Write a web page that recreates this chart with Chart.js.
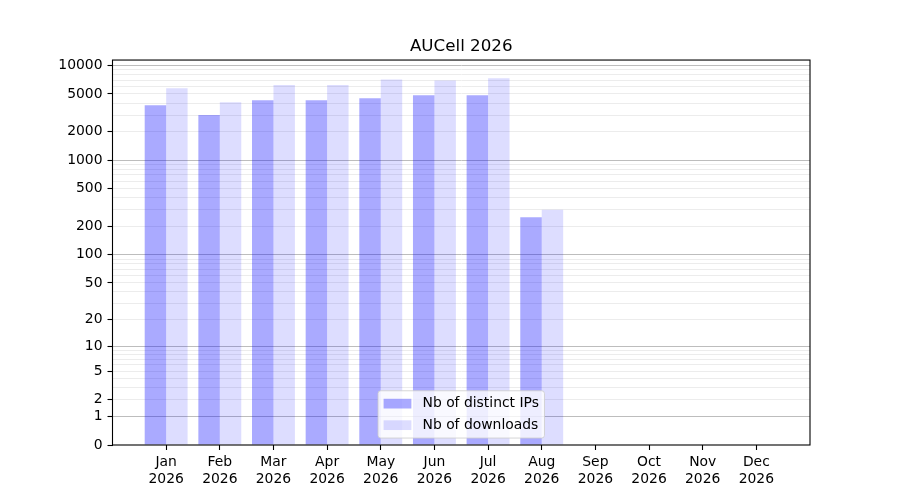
<!DOCTYPE html>
<html>
<head>
<meta charset="utf-8">
<title>AUCell 2026</title>
<script src="https://cdn.jsdelivr.net/npm/chart.js@4.4.1/dist/chart.umd.min.js"></script>
<style>
  body { margin: 0; background: #fff; }
</style>
</head>
<body>
<canvas id="aucellChart" width="900" height="500"></canvas>
<script>
var months = ['Jan', 'Feb', 'Mar', 'Apr', 'May', 'Jun', 'Jul', 'Aug', 'Sep', 'Oct', 'Nov', 'Dec'];
var year = '2026';
var distinctIps = [3800, 3000, 4300, 4300, 4500, 4850, 4850, 250];
var downloads = [5750, 4100, 6200, 6200, 7100, 6950, 7300, 300];
var yTickLabels = [0, 1, 2, 5, 10, 20, 50, 100, 200, 500, 1000, 2000, 5000, 10000];
var yMajorLines = [1, 10, 100, 1000, 10000];
var yTopValue = 11390;

// every grid line: 0, then 1..9, 10..90, 100..900, 1000..9000, 10000
var yGridValues = [0];
[1, 10, 100, 1000].forEach(function (d) {
    for (var k = 1; k < 10; k++) yGridValues.push(k * d);
});
yGridValues.push(10000);

// y axis spaced like log10(v + 1), so zero sits on the floor
class Log1pScale extends Chart.Scale {
    determineDataLimits() {
        this.min = this.options.min;
        this.max = this.options.max;
    }
    buildTicks() {
        return yGridValues.map(function (v) { return { value: v }; });
    }
    configure() {
        super.configure();
        this._lo = Math.log10(this.min + 1);
        this._hi = Math.log10(this.max + 1);
    }
    getLabelForValue(v) {
        return String(v);
    }
    getPixelForValue(v) {
        return this.getPixelForDecimal((Math.log10(v + 1) - this._lo) / (this._hi - this._lo));
    }
    getValueForPixel(p) {
        return Math.pow(10, this._lo + this.getDecimalForPixel(p) * (this._hi - this._lo)) - 1;
    }
}
Log1pScale.id = 'log1p';
Log1pScale.defaults = {};
Chart.register(Log1pScale);

var FS = 13.9;
Chart.defaults.font.family = '"DejaVu Sans"';
Chart.defaults.font.size = FS;
Chart.defaults.color = '#000';

// top and right spines like the original box
var frame = {
    id: 'frame',
    afterDatasetsDraw: function (chart) {
        var a = chart.chartArea, ctx = chart.ctx;
        ctx.save();
        ctx.strokeStyle = '#000';
        ctx.lineWidth = 1.1;
        ctx.strokeRect(a.left, a.top, a.right - a.left, a.bottom - a.top);
        ctx.restore();
    }
};

// legend box at lower centre of the plot
var legendBox = {
    id: 'legendBox',
    afterDraw: function (chart) {
        var a = chart.chartArea, ctx = chart.ctx;
        var sets = chart.data.datasets;
        ctx.save();
        ctx.font = FS + 'px "DejaVu Sans"';
        var textW = 0;
        sets.forEach(function (d) { textW = Math.max(textW, ctx.measureText(d.label).width); });
        var pad = 0.4 * FS, handleW = 2 * FS, handleH = 0.7 * FS, gap = 0.8 * FS;
        var rowH = 14.6, space = 0.5 * FS;
        var w = pad * 2 + handleW + gap + textW;
        var h = pad * 2 + sets.length * rowH + (sets.length - 1) * space;
        var bx = (a.left + a.right) / 2 - w / 2;
        var by = a.bottom - 0.5 * FS - h;
        ctx.beginPath();
        ctx.roundRect(bx, by, w, h, 2.8);
        ctx.fillStyle = 'rgba(255,255,255,0.8)';
        ctx.fill();
        ctx.strokeStyle = 'rgba(204,204,204,0.8)';
        ctx.lineWidth = 1;
        ctx.stroke();
        sets.forEach(function (d, i) {
            var cy = by + pad + rowH / 2 + i * (rowH + space);
            ctx.fillStyle = d.backgroundColor;
            ctx.fillRect(bx + pad, cy - handleH / 2, handleW, handleH);
            ctx.fillStyle = '#000';
            ctx.textBaseline = 'middle';
            ctx.textAlign = 'left';
            ctx.fillText(d.label, bx + pad + handleW + gap, cy);
        });
        ctx.restore();
    }
};

var ctxA = document.getElementById('aucellChart').getContext('2d');
var aucellChart = new Chart(ctxA, {
    type: 'bar',
    data: {
        datasets: [{
            label: 'Nb of distinct IPs',
            data: distinctIps.map(function (v, i) { return { x: i, y: v }; }),
            backgroundColor: 'rgba(0,0,255,0.333)',
            borderWidth: 0
        }, {
            label: 'Nb of downloads',
            data: downloads.map(function (v, i) { return { x: i, y: v }; }),
            backgroundColor: 'rgba(0,0,255,0.133)',
            borderWidth: 0
        }]
    },
    options: {
        responsive: false,
        animation: false,
        categoryPercentage: 0.8,
        barPercentage: 1.0,
        layout: { padding: { left: 0, right: 90, top: 0, bottom: 0 } },
        plugins: {
            legend: { display: false },
            tooltip: { enabled: false },
            title: {
                display: true,
                fullSize: false,
                text: 'AUCell 2026',
                color: '#000',
                font: { size: 16.7, weight: 'normal', lineHeight: 1.2 },
                padding: { top: 37, bottom: 3 }
            }
        },
        scales: {
            x: {
                type: 'linear',
                min: -1,
                max: 12,
                offset: false,
                afterBuildTicks: function (scale) {
                    scale.ticks = months.map(function (m, i) { return { value: i }; });
                },
                afterFit: function (scale) { scale.height = 55; },
                ticks: {
                    autoSkip: false,
                    maxRotation: 0,
                    padding: 4,
                    font: { lineHeight: 1.2 },
                    callback: function (v) { return [months[v], year]; }
                },
                grid: {
                    offset: false,
                    drawOnChartArea: false,
                    drawTicks: true,
                    tickLength: 5,
                    tickColor: '#000',
                    tickWidth: 1.1
                },
                border: { display: false }
            },
            y: {
                type: 'log1p',
                min: 0,
                max: yTopValue,
                afterFit: function (scale) { scale.width = 112.5; },
                ticks: {
                    autoSkip: false,
                    padding: 5,
                    callback: function (v) {
                        return yTickLabels.indexOf(v) >= 0 ? String(v) : '';
                    }
                },
                grid: {
                    drawTicks: true,
                    tickLength: 5,
                    lineWidth: 1,
                    color: function (c) {
                        var v = c.tick ? c.tick.value : null;
                        if (v === 0) return 'rgba(0,0,0,0)';
                        return yMajorLines.indexOf(v) >= 0 ? '#bdbdbd' : '#ececec';
                    },
                    tickColor: function (c) {
                        var v = c.tick ? c.tick.value : null;
                        return yTickLabels.indexOf(v) >= 0 ? '#000' : 'rgba(0,0,0,0)';
                    },
                    tickWidth: 1.1
                },
                border: { display: false }
            }
        }
    },
    plugins: [frame, legendBox]
});
</script>
</body>
</html>
